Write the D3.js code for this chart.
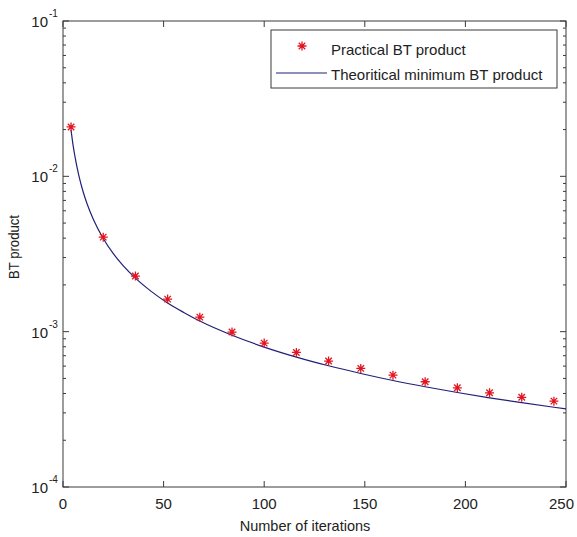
<!DOCTYPE html>
<html>
<head>
<meta charset="utf-8">
<script src="https://cdn.jsdelivr.net/npm/d3@7"></script>
<style>
  body { margin: 0; background: #fff; }
  text { font-family: "Liberation Sans", Arial, sans-serif; fill: #222; }
</style>
</head>
<body>
<div id="chart"></div>
<script>
// practical BT product (star markers)
const iterations = [4, 20, 36, 52, 68, 84, 100, 116, 132, 148, 164, 180, 196, 212, 228, 244];
const practical = [0.0208, 0.00406, 0.00228, 0.00162, 0.00124, 0.000994, 0.000844, 0.000735,
                   0.000647, 0.000580, 0.000525, 0.000476, 0.000435, 0.000404, 0.000378, 0.000357];

// theoretical minimum BT product (solid line)
const lineIterations = [4, 5, 6, 8, 10, 12, 15, 20, 25, 30, 36, 44, 52, 60, 68, 84, 100, 116,
                        132, 148, 164, 180, 196, 212, 228, 244, 250];
const theoretical = [0.0199, 0.0159, 0.0133, 0.00995, 0.00796, 0.00663, 0.00531, 0.00398, 0.00318,
                     0.00265, 0.00221, 0.00181, 0.00153, 0.00133, 0.00117, 0.000948, 0.000796,
                     0.000686, 0.000603, 0.000538, 0.000485, 0.000442, 0.000406, 0.000375,
                     0.000349, 0.000326, 0.000318];

const xTicks = [0, 50, 100, 150, 200, 250];
const yDecades = [-4, -3, -2, -1];
const legendLabels = ["Practical BT product", "Theoritical minimum BT product"];

const width = 577, height = 537;
const margin = { top: 21, right: 11, bottom: 50, left: 63 };
const axisColor = "#3a3a3a";
const lineColor = "#20207a";
const starColor = "#e0151f";

const svg = d3.select("#chart").append("svg")
    .attr("width", width)
    .attr("height", height);

const x = d3.scaleLinear().domain([0, 250]).range([margin.left, width - margin.right]);
const y = d3.scaleLog().domain([1e-4, 1e-1]).range([height - margin.bottom, margin.top]);

const [x0, x1] = x.range();
const [y0, y1] = y.range();

// x ticks, bottom and top, pointing inward
xTicks.forEach((t, i) => {
    svg.append("line").attr("x1", x(t)).attr("x2", x(t)).attr("y1", y0).attr("y2", y0 - 6)
        .attr("stroke", axisColor);
    svg.append("line").attr("x1", x(t)).attr("x2", x(t)).attr("y1", y1).attr("y2", y1 + 6)
        .attr("stroke", axisColor);
    // last label is pulled in so it stays inside the window
    const last = i === xTicks.length - 1;
    svg.append("text")
        .attr("x", last ? width - 3 : x(t)).attr("y", y0 + 22)
        .attr("text-anchor", last ? "end" : "middle")
        .style("font-size", "15px")
        .text(t);
});

// y ticks on log scale: majors at decades, minors at 2..9
yDecades.forEach(d => {
    const v = Math.pow(10, d);
    [[x0, 6], [x1, -6]].forEach(([px, len]) => {
        svg.append("line").attr("x1", px).attr("x2", px + len).attr("y1", y(v)).attr("y2", y(v))
            .attr("stroke", axisColor);
    });
    svg.append("text")
        .attr("x", x0 - 15).attr("y", y(v) + 6)
        .attr("text-anchor", "end")
        .style("font-size", "15px")
        .text("10");
    svg.append("text")
        .attr("x", x0 - 14).attr("y", y(v) - 4)
        .attr("text-anchor", "start")
        .style("font-size", "10px")
        .text("-" + (-d));
    if (d < -1) {
        for (let k = 2; k <= 9; k++) {
            const mv = k * v;
            [[x0, 3], [x1, -3]].forEach(([px, len]) => {
                svg.append("line").attr("x1", px).attr("x2", px + len).attr("y1", y(mv)).attr("y2", y(mv))
                    .attr("stroke", axisColor);
            });
        }
    }
});

// axes box
svg.append("rect")
    .attr("x", x0).attr("y", y1)
    .attr("width", x1 - x0).attr("height", y0 - y1)
    .attr("fill", "none")
    .attr("stroke", axisColor);

// axis labels
svg.append("text")
    .attr("x", 305).attr("y", y0 + 44)
    .attr("text-anchor", "middle")
    .style("font-size", "14.5px")
    .text("Number of iterations");

svg.append("text")
    .attr("transform", `translate(19, 247) rotate(-90)`)
    .attr("text-anchor", "middle")
    .attr("textLength", 64)
    .attr("lengthAdjust", "spacingAndGlyphs")
    .style("font-size", "14.5px")
    .text("BT product");

// theoretical line
const line = d3.line()
    .x((d, i) => x(lineIterations[i]))
    .y(d => y(d))
    .curve(d3.curveMonotoneX);

svg.append("path")
    .datum(theoretical)
    .attr("d", line)
    .attr("fill", "none")
    .attr("stroke", lineColor)
    .attr("stroke-width", 1.2);

// star marker: plus and cross overlaid
function starPath(r) {
    const s = r * 0.72;
    return `M${-r},0L${r},0M0,${-r}L0,${r}M${-s},${-s}L${s},${s}M${-s},${s}L${s},${-s}`;
}

svg.selectAll(".star")
    .data(practical)
    .join("path")
    .attr("class", "star")
    .attr("transform", (d, i) => `translate(${x(iterations[i])},${y(d)})`)
    .attr("d", starPath(4.5))
    .attr("stroke", starColor)
    .attr("stroke-width", 1.3)
    .attr("fill", "none");

// legend
const legend = svg.append("g");
legend.append("rect")
    .attr("x", 271).attr("y", 30)
    .attr("width", 286).attr("height", 58)
    .attr("fill", "#fff")
    .attr("stroke", axisColor);

legend.append("path")
    .attr("transform", "translate(302,46)")
    .attr("d", starPath(4.5))
    .attr("stroke", starColor)
    .attr("stroke-width", 1.3)
    .attr("fill", "none");

legend.append("line")
    .attr("x1", 276).attr("x2", 327).attr("y1", 73).attr("y2", 73)
    .attr("stroke", lineColor)
    .attr("stroke-width", 1.2);

legendLabels.forEach((t, i) => {
    legend.append("text")
        .attr("x", 331).attr("y", 55 + i * 25)
        .style("font-size", "15px")
        .text(t);
});
</script>
</body>
</html>
